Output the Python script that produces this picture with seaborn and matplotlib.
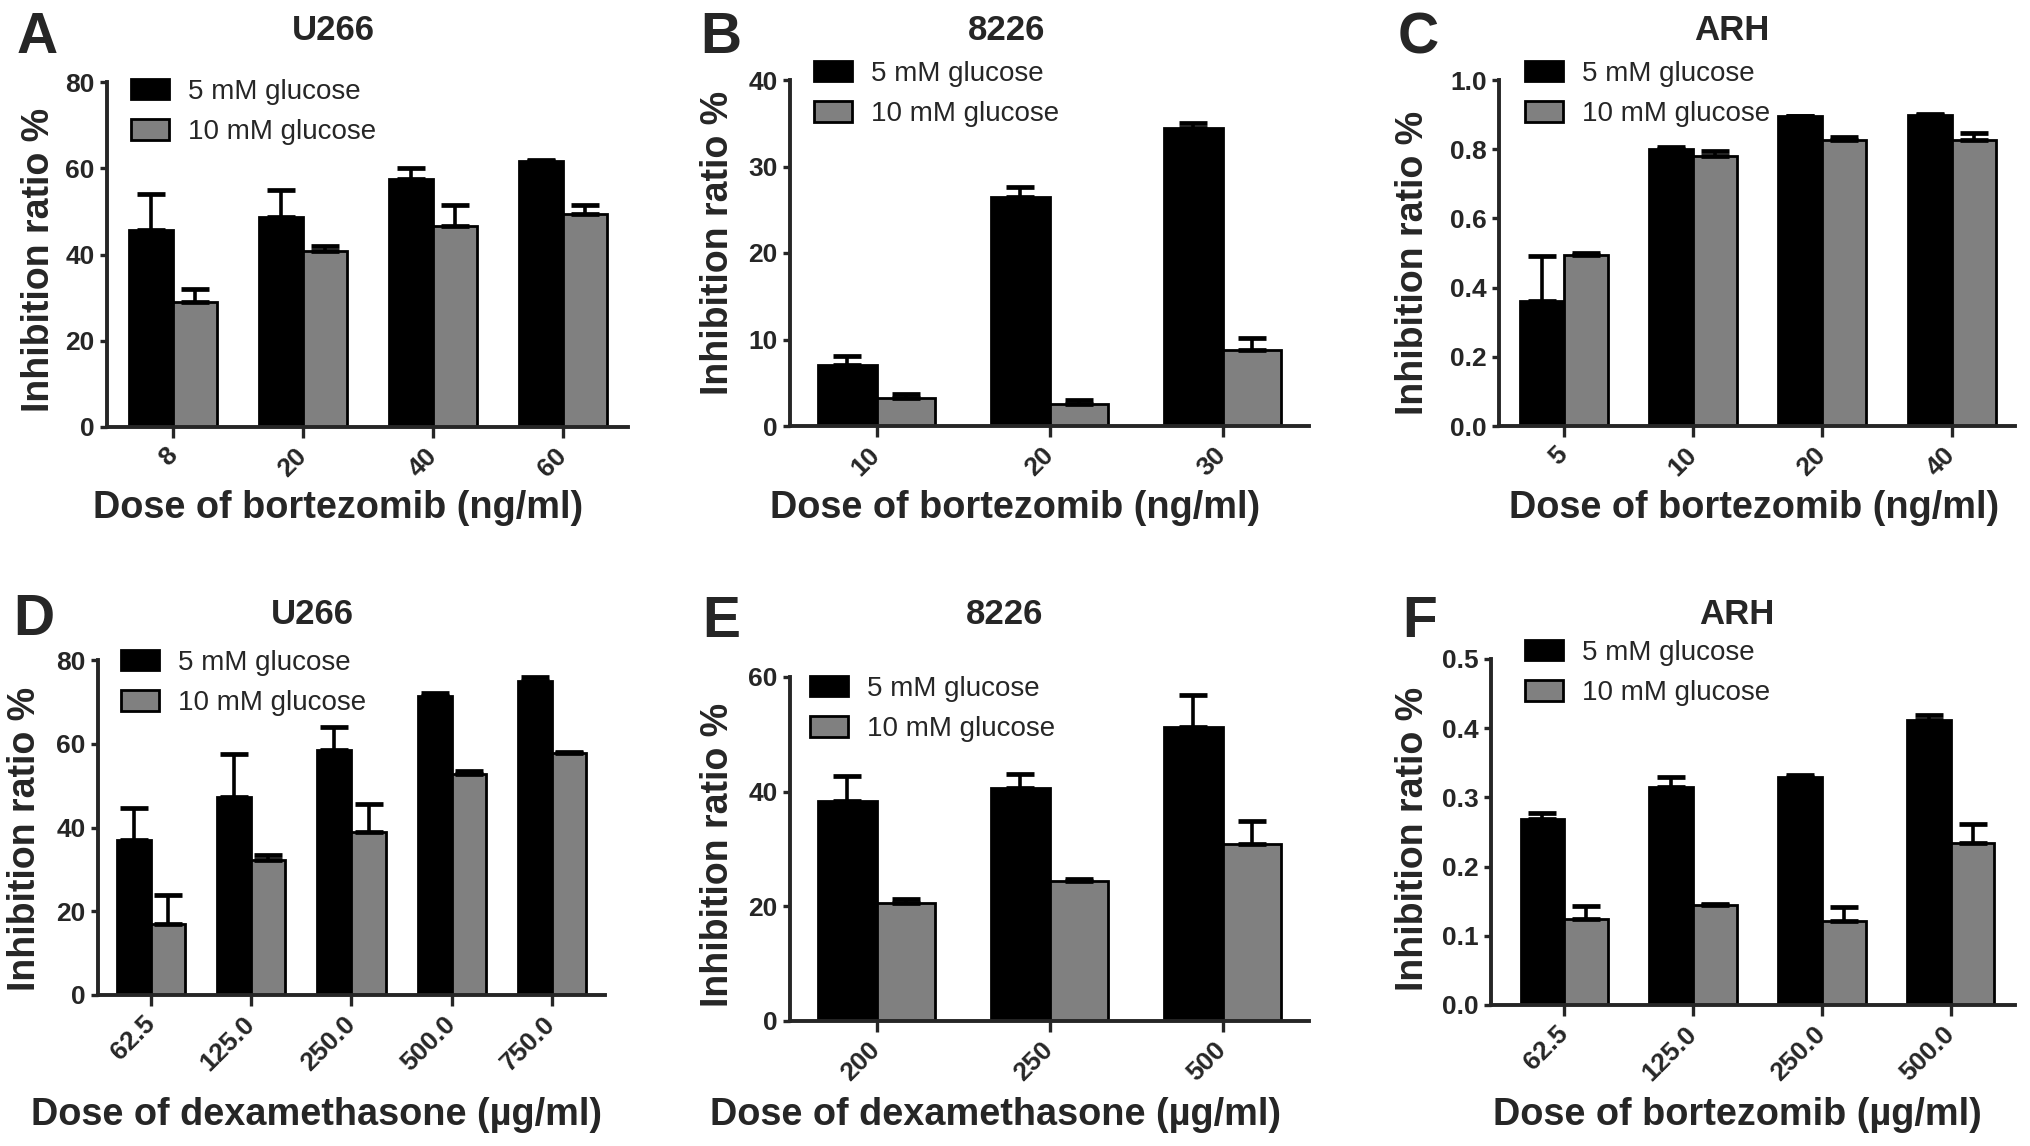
import numpy as np
import pandas as pd
import matplotlib
matplotlib.use("Agg")
import matplotlib.pyplot as plt
import seaborn as sns
from matplotlib.ticker import FormatStrFormatter

# ---------------- data ----------------
glucose_levels = ["5 mM glucose", "10 mM glucose"]
bar_colors = ["#000000", "#808080"]

A_doses = ["8", "20", "40", "60"]
A_5mM = [45.6, 48.8, 57.4, 61.6]
A_5mM_sem = [8.5, 6.2, 2.7, 0.4]
A_10mM = [29.1, 40.9, 46.7, 49.5]
A_10mM_sem = [2.8, 1.0, 4.7, 1.9]

B_doses = ["10", "20", "30"]
B_5mM = [7.0, 26.5, 34.5]
B_5mM_sem = [1.1, 1.1, 0.5]
B_10mM = [3.2, 2.5, 8.8]
B_10mM_sem = [0.55, 0.5, 1.4]

C_doses = ["5", "10", "20", "40"]
C_5mM = [0.36, 0.80, 0.895, 0.90]
C_5mM_sem = [0.13, 0.006, 0.002, 0.002]
C_10mM = [0.495, 0.78, 0.826, 0.826]
C_10mM_sem = [0.005, 0.015, 0.010, 0.020]

D_doses = ["62.5", "125.0", "250.0", "500.0", "750.0"]
D_5mM = [37.1, 47.2, 58.5, 71.3, 75.0]
D_5mM_sem = [7.5, 10.4, 5.4, 0.8, 1.0]
D_10mM = [17.0, 32.3, 38.9, 52.7, 57.8]
D_10mM_sem = [6.8, 1.1, 6.6, 0.9, 0.3]

E_doses = ["200", "250", "500"]
E_5mM = [38.3, 40.7, 51.2]
E_5mM_sem = [4.5, 2.4, 5.6]
E_10mM = [20.6, 24.5, 30.8]
E_10mM_sem = [0.7, 0.2, 4.0]

F_doses = ["62.5", "125.0", "250.0", "500.0"]
F_5mM = [0.269, 0.315, 0.330, 0.412]
F_5mM_sem = [0.008, 0.014, 0.003, 0.007]
F_10mM = [0.124, 0.144, 0.122, 0.234]
F_10mM_sem = [0.019, 0.002, 0.019, 0.028]

ylabel_text = "Inhibition ratio %"
xlabel_bz_ng = "Dose of bortezomib (ng/ml)"
xlabel_dex = "Dose of dexamethasone (\u00b5g/ml)"
xlabel_bz_ug = "Dose of bortezomib (\u00b5g/ml)"

# ---------------- style ----------------
sns.set_style("ticks")
plt.rcParams["font.family"] = ["Liberation Sans", "DejaVu Sans"]

W, H = 2031, 1146
fig = plt.figure(figsize=(W / 100, H / 100), dpi=100)


def fx(px):
    return px / W


def fy(py):
    return 1 - py / H


panels = [
    dict(letter="A", title="U266", doses=A_doses, v5=A_5mM, e5=A_5mM_sem, v10=A_10mM, e10=A_10mM_sem,
         xlabel=xlabel_bz_ng, yticks=[0, 20, 40, 60, 80], fmt="%d",
         box=(107, 82, 628, 427), xlim=(-0.51, 3.5),
         letter_xy=(37, 38), title_xy=(333, 30), xlabel_xy=(338, 508), ylabel_xy=(39, 260),
         leg_left=131, leg_mid=112),
    dict(letter="B", title="8226", doses=B_doses, v5=B_5mM, e5=B_5mM_sem, v10=B_10mM, e10=B_10mM_sem,
         xlabel=xlabel_bz_ng, yticks=[0, 10, 20, 30, 40], fmt="%d",
         box=(790, 80, 1309, 426), xlim=(-0.5, 2.5),
         letter_xy=(721, 38), title_xy=(1007, 30), xlabel_xy=(1015, 508), ylabel_xy=(718, 243),
         leg_left=814, leg_mid=94),
    dict(letter="C", title="ARH", doses=C_doses, v5=C_5mM, e5=C_5mM_sem, v10=C_10mM, e10=C_10mM_sem,
         xlabel=xlabel_bz_ng, yticks=[0, 0.2, 0.4, 0.6, 0.8, 1.0], fmt="%.1f",
         box=(1499, 80, 2015, 426), xlim=(-0.5, 3.49),
         letter_xy=(1418, 38), title_xy=(1732, 30), xlabel_xy=(1754, 508), ylabel_xy=(1413, 263),
         leg_left=1525, leg_mid=94),
    dict(letter="D", title="U266", doses=D_doses, v5=D_5mM, e5=D_5mM_sem, v10=D_10mM, e10=D_10mM_sem,
         xlabel=xlabel_dex, yticks=[0, 20, 40, 60, 80], fmt="%d",
         box=(98, 660, 605, 995), xlim=(-0.53, 4.53),
         letter_xy=(34, 620), title_xy=(312, 614), xlabel_xy=(317, 1115), ylabel_xy=(25, 839),
         leg_left=121, leg_mid=683),
    dict(letter="E", title="8226", doses=E_doses, v5=E_5mM, e5=E_5mM_sem, v10=E_10mM, e10=E_10mM_sem,
         xlabel=xlabel_dex, yticks=[0, 20, 40, 60], fmt="%d",
         box=(790, 677, 1309, 1021), xlim=(-0.5, 2.5),
         letter_xy=(721, 622), title_xy=(1005, 614), xlabel_xy=(996, 1115), ylabel_xy=(718, 855),
         leg_left=810, leg_mid=709),
    dict(letter="F", title="ARH", doses=F_doses, v5=F_5mM, e5=F_5mM_sem, v10=F_10mM, e10=F_10mM_sem,
         xlabel=xlabel_bz_ug, yticks=[0, 0.1, 0.2, 0.3, 0.4, 0.5], fmt="%.1f",
         box=(1491, 659, 2015, 1005), xlim=(-0.57, 3.5),
         letter_xy=(1420, 622), title_xy=(1737, 614), xlabel_xy=(1737, 1115), ylabel_xy=(1413, 839),
         leg_left=1525, leg_mid=673),
]

for p in panels:
    x0, y0, x1, y1 = p["box"]
    ax = fig.add_axes([fx(x0), fy(y1), (x1 - x0) / W, (y1 - y0) / H])
    n = len(p["doses"])
    df = pd.DataFrame({
        "dose": p["doses"] * 2,
        "glucose": [glucose_levels[0]] * n + [glucose_levels[1]] * n,
        "value": list(p["v5"]) + list(p["v10"]),
    })
    sns.barplot(data=df, x="dose", y="value", hue="glucose", order=p["doses"],
                hue_order=glucose_levels, palette=bar_colors, saturation=1,
                width=0.68, edgecolor="black", linewidth=2.0, errorbar=None, ax=ax)
    bar_conts = list(ax.containers[:2])
    for cont, errs in zip(bar_conts, [p["e5"], p["e10"]]):
        xs = [b.get_x() + b.get_width() / 2 for b in cont]
        ys = [b.get_height() for b in cont]
        ax.errorbar(xs, ys, yerr=[np.zeros(len(errs)), errs], fmt="none", ecolor="black",
                    elinewidth=2.6, capsize=10, capthick=3.4, zorder=4)

    ax.set_xlim(*p["xlim"])
    ax.set_ylim(p["yticks"][0], p["yticks"][-1])
    ax.set_yticks(p["yticks"])
    ax.yaxis.set_major_formatter(FormatStrFormatter(p["fmt"]))
    for s in ["top", "right"]:
        ax.spines[s].set_visible(False)
    for s in ["left", "bottom"]:
        ax.spines[s].set_linewidth(2.8)
    ax.tick_params(axis="x", length=8, width=2.4, pad=10)
    ax.tick_params(axis="y", length=5, width=2.4, pad=4)
    plt.setp(ax.get_xticklabels(), rotation=45, ha="right", va="center",
             rotation_mode="anchor", fontsize=19, fontweight="bold")
    plt.setp(ax.get_yticklabels(), fontsize=19, fontweight="bold")

    ax.set_ylabel(ylabel_text, fontsize=27, fontweight="bold")
    ax.yaxis.set_label_coords(fx(p["ylabel_xy"][0]), fy(p["ylabel_xy"][1]), transform=fig.transFigure)
    ax.yaxis.label.set_va("center")
    ax.yaxis.label.set_ha("center")
    ax.set_xlabel(p["xlabel"], fontsize=27.3, fontweight="bold")
    ax.xaxis.set_label_coords(fx(p["xlabel_xy"][0]), fy(p["xlabel_xy"][1]), transform=fig.transFigure)
    ax.xaxis.label.set_va("center")

    ax.legend(bar_conts, glucose_levels, loc="center left",
              bbox_to_anchor=(fx(p["leg_left"]), fy(p["leg_mid"])), bbox_transform=fig.transFigure,
              frameon=False, fontsize=20, handlelength=1.37, handleheight=0.77,
              handletextpad=0.68, labelspacing=0.52, borderpad=0, borderaxespad=0)

    fig.text(fx(p["letter_xy"][0]), fy(p["letter_xy"][1]), p["letter"], ha="center", va="center",
             fontsize=41, fontweight="bold")
    fig.text(fx(p["title_xy"][0]), fy(p["title_xy"][1]), p["title"], ha="center", va="center",
             fontsize=25, fontweight="bold")

fig.savefig("out.png", dpi=100, facecolor="white")
